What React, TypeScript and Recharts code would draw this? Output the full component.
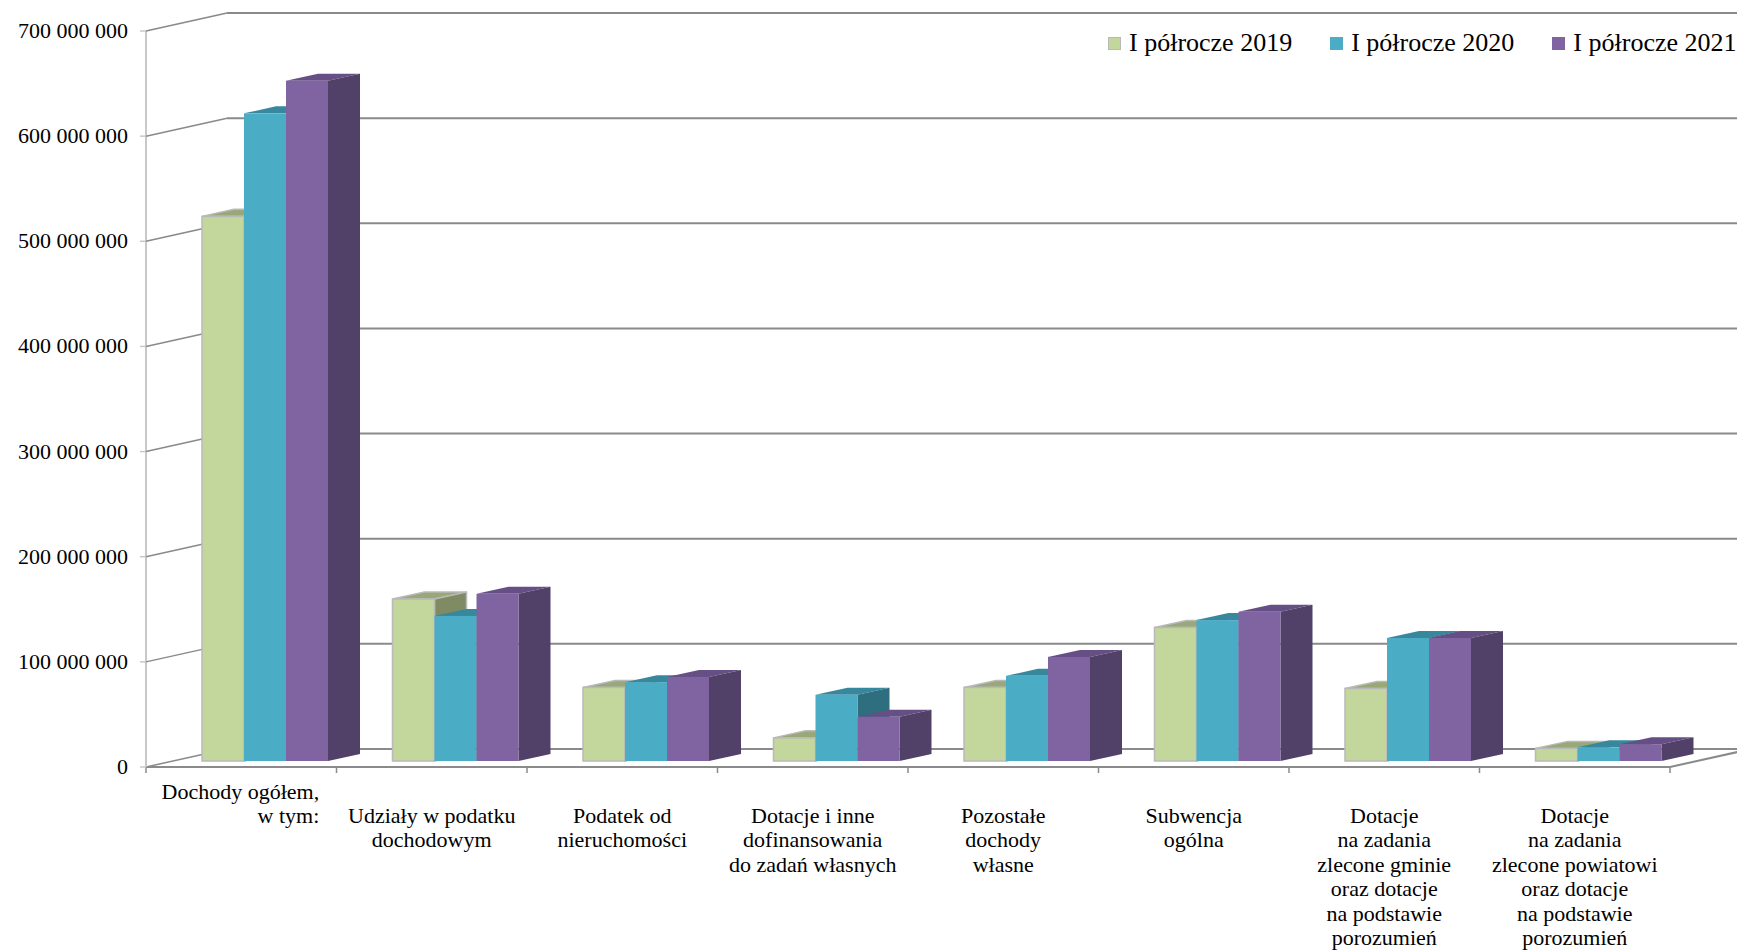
import { BarChart, Bar, XAxis, YAxis, CartesianGrid, Legend } from "recharts";

const categories = [
  "Dochody ogółem,\nw tym:",
  "Udziały w podatku\ndochodowym",
  "Podatek od\nnieruchomości",
  "Dotacje i inne\ndofinansowania\ndo zadań własnych",
  "Pozostałe\ndochody\nwłasne",
  "Subwencja\nogólna",
  "Dotacje\nna zadania\nzlecone gminie\noraz dotacje\nna podstawie\nporozumień",
  "Dotacje\nna zadania\nzlecone powiatowi\noraz dotacje\nna podstawie\nporozumień",
];

const h2019 = [518000000, 154000000, 70000000, 22000000, 70000000, 127000000, 69000000, 12000000];
const h2020 = [616000000, 138000000, 75000000, 63000000, 81000000, 134000000, 117000000, 13000000];
const h2021 = [647000000, 159000000, 80000000, 42000000, 99000000, 142000000, 117000000, 16000000];

const seriesNames = ["I półrocze 2019", "I półrocze 2020", "I półrocze 2021"];
const yTicks = [0, 100000000, 200000000, 300000000, 400000000, 500000000, 600000000, 700000000];

const data = categories.map((c, i) => ({
  name: c,
  s2019: h2019[i],
  s2020: h2020[i],
  s2021: h2021[i],
}));

const W = 1737;
const H = 952;
const FONT = "'Liberation Serif', 'Times New Roman', serif";

// 3D projection: front plane is the bar plane shifted by (FX, FY); back wall by (BX, BY)
const FX = -24;
const FY = 6;
const BX = 57;
const BY = -12;
const AXIS_X = 146;
const BAND = 190.5;
const DEPTH_X = 32;
const DEPTH_Y = 7;
const GRID = "#8a8a8a";

const palette = [
  { front: "#c3d69b", top: "#99a877", side: "#7f8b62", stroke: "#b9b9b9" },
  { front: "#4bacc6", top: "#37879d", side: "#2f6e7f", stroke: "none" },
  { front: "#8064a2", top: "#654f84", side: "#514067", stroke: "none" },
];

function Bar3D(props: any) {
  const { x, y, width, height, colors } = props;
  if (x == null || y == null || !height) return null;
  const r = x + width;
  const b = y + height;
  return (
    <g>
      <polygon
        points={`${x},${y} ${x + DEPTH_X},${y - DEPTH_Y} ${r + DEPTH_X},${y - DEPTH_Y} ${r},${y}`}
        fill={colors.top}
        stroke={colors.stroke}
        strokeWidth={1.5}
      />
      <polygon
        points={`${r},${y} ${r + DEPTH_X},${y - DEPTH_Y} ${r + DEPTH_X},${b - DEPTH_Y} ${r},${b}`}
        fill={colors.side}
        stroke={colors.stroke}
        strokeWidth={1.5}
      />
      <rect x={x} y={y} width={width} height={height} fill={colors.front} stroke={colors.stroke} strokeWidth={1.5} />
    </g>
  );
}

function GridLine(props: any) {
  const { y1, index } = props;
  const yb = y1 + BY;
  const yf = y1 + FY;
  const isFloor = Math.abs(y1 - 761) < 2;
  return (
    <g key={`g-${index}`}>
      <line x1={AXIS_X} y1={yf} x2={AXIS_X + BX + 24} y2={yb} stroke={GRID} strokeWidth={1.5} />
      <line x1={AXIS_X + BX + 24} y1={yb} x2={W} y2={yb} stroke={GRID} strokeWidth={2} />
      {isFloor && (
        <g>
          <line x1={AXIS_X} y1={yf} x2={AXIS_X + BAND * 8} y2={yf} stroke={GRID} strokeWidth={2} />
          <line
            x1={AXIS_X + BAND * 8}
            y1={yf}
            x2={AXIS_X + BAND * 8 + 81}
            y2={yf - 18}
            stroke={GRID}
            strokeWidth={2}
          />
          <line x1={AXIS_X} y1={31} x2={AXIS_X} y2={yf} stroke="#c8c8c8" strokeWidth={2} />
        </g>
      )}
    </g>
  );
}

function fmt(v: number) {
  return String(v).replace(/\B(?=(\d{3})+(?!\d))/g, " ");
}

function YTick(props: any) {
  const { y, payload } = props;
  const yf = y + FY;
  return (
    <g>
      <line x1={AXIS_X - 6} y1={yf} x2={AXIS_X} y2={yf} stroke="#c8c8c8" strokeWidth={1.5} />
      <text x={AXIS_X - 18} y={yf + 7} textAnchor="end" fontFamily={FONT} fontSize={22} fill="#000">
        {fmt(payload.value)}
      </text>
    </g>
  );
}

function XTick(props: any) {
  const { x, payload, index } = props;
  const cx = x + FX;
  const lines = String(payload.value).split("\n");
  const left = cx - BAND / 2;
  const tickY = 767;
  const first = index === 0;
  return (
    <g>
      <line x1={left} y1={tickY} x2={left} y2={tickY + 6} stroke={GRID} strokeWidth={1.5} />
      {index === categories.length - 1 && (
        <line x1={left + BAND} y1={tickY} x2={left + BAND} y2={tickY + 6} stroke={GRID} strokeWidth={1.5} />
      )}
      {lines.map((ln, i) => (
        <text
          key={i}
          x={first ? cx + 78 : cx}
          y={(first ? 792 : 816) + i * 24.4 + 7}
          textAnchor={first ? "end" : "middle"}
          fontFamily={FONT}
          fontSize={22}
          fill="#000"
        >
          {ln}
        </text>
      ))}
    </g>
  );
}

function LegendContent() {
  return (
    <div style={{ display: "flex", alignItems: "center", fontFamily: FONT, fontSize: 26, color: "#000", whiteSpace: "nowrap" }}>
      {seriesNames.map((n, i) => (
        <div key={n} style={{ display: "flex", alignItems: "center", marginRight: i < 2 ? 38 : 0 }}>
          <span
            style={{
              display: "inline-block",
              width: 13,
              height: 13,
              background: palette[i].front,
              border: i === 0 ? "1px solid #b9b9b9" : "none",
              boxSizing: "border-box",
              marginRight: 8,
            }}
          />
          <span>{n}</span>
        </div>
      ))}
    </div>
  );
}

export default function App() {
  return (
    <div style={{ width: W, height: H, background: "#fff" }}>
      <style>{"body{margin:0;background:#fff}"}</style>
      <BarChart
        width={W}
        height={H}
        data={data}
        margin={{ top: 25, right: 43, bottom: 0, left: 0 }}
        barGap={0}
        barSize={42}
      >
        <CartesianGrid vertical={false} horizontal={(p: any) => <GridLine {...p} />} />
        <XAxis dataKey="name" height={191} interval={0} tick={(p: any) => <XTick {...p} />} tickLine={false} axisLine={false} />
        <YAxis
          width={170}
          domain={[0, 700000000]}
          ticks={yTicks}
          tick={(p: any) => <YTick {...p} />}
          tickLine={false}
          axisLine={false}
        />
        <Legend
          verticalAlign="middle"
          align="center"
          layout="horizontal"
          content={() => <LegendContent />}
          wrapperStyle={{ top: 28, left: 1108, width: 640, height: 34 }}
        />
        <Bar dataKey="s2019" name={seriesNames[0]} isAnimationActive={false} shape={(p: any) => <Bar3D {...p} colors={palette[0]} />} />
        <Bar dataKey="s2020" name={seriesNames[1]} isAnimationActive={false} shape={(p: any) => <Bar3D {...p} colors={palette[1]} />} />
        <Bar dataKey="s2021" name={seriesNames[2]} isAnimationActive={false} shape={(p: any) => <Bar3D {...p} colors={palette[2]} />} />
      </BarChart>
    </div>
  );
}
